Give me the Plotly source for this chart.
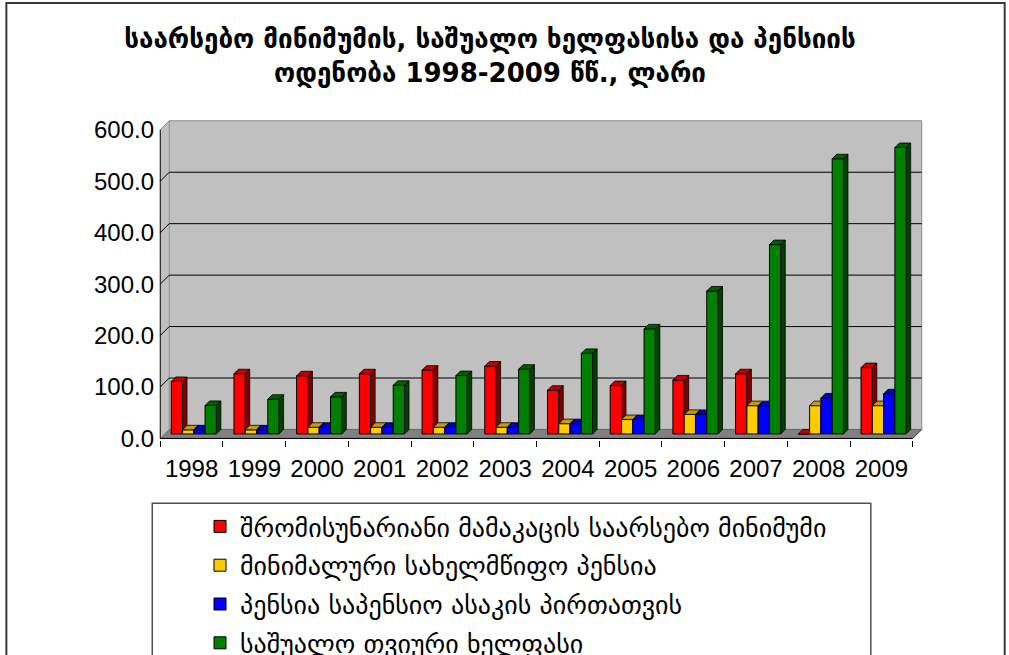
import plotly.graph_objects as go

# ---------------- data ----------------
years = ["1998", "1999", "2000", "2001", "2002", "2003",
         "2004", "2005", "2006", "2007", "2008", "2009"]
subsistence_min = [102, 117, 113, 117, 124, 132, 85, 94, 105, 117, 0, 129]
min_state_pension = [8, 8, 13, 13, 13, 13, 20, 28, 38, 55, 55, 55]
pension_retired = [8, 8, 13, 13, 13, 13, 20, 28, 38, 55, 70, 78]
avg_monthly_wage = [55.4, 67.5, 72.1, 94.6, 113.5, 125.9, 156.6, 204.2,
                    277.9, 368.1, 534.9, 556.8]

series_names = [
    "შრომისუნარიანი მამაკაცის საარსებო მინიმუმი",
    "მინიმალური სახელმწიფო პენსია",
    "პენსია საპენსიო ასაკის პირთათვის",
    "საშუალო თვიური ხელფასი",
]
series_values = [subsistence_min, min_state_pension, pension_retired, avg_monthly_wage]
# front, top, side colours for each series
series_colors = [
    ("#FF0000", "#C00000", "#800000"),
    ("#FFCC00", "#C89B00", "#806600"),
    ("#0000FF", "#0000C0", "#000080"),
    ("#008000", "#006000", "#004000"),
]

title_text = ("<b>საარსებო მინიმუმის, საშუალო ხელფასისა და პენსიის<br>"
              "ოდენობა 1998-2009 წწ., ლარი</b>")

# ---------------- geometry of the pseudo-3D frame ----------------
W, H = 1009, 655
X_PX = 62.75          # pixels per category
Y_PX = 0.5138         # pixels per value unit
ORIGIN_X, ORIGIN_Y = 160.0, 438.3   # pixel position of (-0.5, 0)

DXW = 9 / X_PX        # wall depth in x units
DYW = 9 / Y_PX        # wall depth in value units
DXB, DYB = DXW / 2, DYW / 2   # bar depth
BASE = DYW / 2        # bars stand in the middle of the floor
BAR_W = 0.18
GROUP_LEFT = -0.325
Y_TOP = 600

x_lo, x_hi = -0.52, 11.5 + DXW + 0.02
y_lo, y_hi = -3.0, Y_TOP + DYW + 1.5

plot_l = ORIGIN_X + (x_lo + 0.5) * X_PX
plot_r = ORIGIN_X + (x_hi + 0.5) * X_PX
plot_b = ORIGIN_Y - y_lo * Y_PX
plot_t = ORIGIN_Y - y_hi * Y_PX


def paper_x(px):
    return (px - plot_l) / (plot_r - plot_l)


def paper_y(py):
    return (plot_b - py) / (plot_b - plot_t)


n = len(years)
xs = list(range(n))

fig = go.Figure()

for k, (name, vals, (c_front, c_top, c_side)) in enumerate(
        zip(series_names, series_values, series_colors)):
    off = GROUP_LEFT + k * BAR_W
    fig.add_trace(go.Bar(
        x=xs, y=vals, base=BASE, offset=off, width=BAR_W,
        name=name, legendgroup=name,
        marker=dict(color=c_front, line=dict(color="black", width=1)),
        zorder=k + 1, hoverinfo="skip",
    ))
    top_x, top_y, side_x, side_y = [], [], [], []
    for i, v in zip(xs, vals):
        x0 = i + off
        x1 = x0 + BAR_W
        y0 = BASE
        y1 = BASE + v
        top_x += [x0, x1, x1 + DXB, x0 + DXB, x0, None]
        top_y += [y1, y1, y1 + DYB, y1 + DYB, y1, None]
        side_x += [x1, x1 + DXB, x1 + DXB, x1, x1, None]
        side_y += [y0, y0 + DYB, y1 + DYB, y1, y0, None]
    for fx, fy, fc in ((side_x, side_y, c_side), (top_x, top_y, c_top)):
        fig.add_trace(go.Scatter(
            x=fx, y=fy, mode="lines", fill="toself", fillcolor=fc,
            line=dict(color="black", width=0.8),
            legendgroup=name, showlegend=False, hoverinfo="skip",
            zorder=k + 1,
        ))

shapes = []
x_left, x_right = -0.5, n - 0.5
# left wall
shapes.append(dict(type="path", xref="x", yref="y", layer="below",
                   path=f"M {x_left},0 L {x_left + DXW},{DYW} L {x_left + DXW},{Y_TOP + DYW} "
                        f"L {x_left},{Y_TOP} Z",
                   fillcolor="#C0C0C0", line=dict(width=0)))
# back wall
shapes.append(dict(type="rect", xref="x", yref="y", layer="below",
                   x0=x_left + DXW, x1=x_right + DXW, y0=DYW, y1=Y_TOP + DYW,
                   fillcolor="#C0C0C0", line=dict(color="#8C8C8C", width=1)))
# floor
shapes.append(dict(type="path", xref="x", yref="y", layer="below",
                   path=f"M {x_left},0 L {x_right},0 L {x_right + DXW},{DYW} "
                        f"L {x_left + DXW},{DYW} Z",
                   fillcolor="#808080", line=dict(color="#6A6A6A", width=1)))
# gridlines across left and back wall
for v in range(100, Y_TOP, 100):
    shapes.append(dict(type="path", xref="x", yref="y", layer="below",
                       path=f"M {x_left},{v} L {x_left + DXW},{v + DYW} L {x_right + DXW},{v + DYW}",
                       line=dict(color="black", width=1)))
# top edge of left wall
shapes.append(dict(type="line", xref="x", yref="y", layer="below",
                   x0=x_left, y0=Y_TOP, x1=x_left + DXW, y1=Y_TOP + DYW,
                   line=dict(color="#8C8C8C", width=1)))
# front axes
shapes.append(dict(type="line", xref="x", yref="y", layer="below",
                   x0=x_left, y0=0, x1=x_left, y1=Y_TOP, line=dict(color="black", width=1)))
shapes.append(dict(type="line", xref="x", yref="y", layer="below",
                   x0=x_left, y0=0, x1=x_right, y1=0, line=dict(color="black", width=1)))
shapes.append(dict(type="line", xref="x", yref="y", layer="below",
                   x0=x_right, y0=0, x1=x_right + DXW, y1=DYW, line=dict(color="#555555", width=1)))
# outer chart frame
shapes.append(dict(type="rect", xref="paper", yref="paper", layer="below",
                   x0=paper_x(6), x1=paper_x(1005), y0=paper_y(700), y1=paper_y(3.5),
                   line=dict(color="#3A3A3A", width=2), fillcolor="rgba(0,0,0,0)"))
# legend frame
shapes.append(dict(type="rect", xref="paper", yref="paper", layer="below",
                   x0=paper_x(152), x1=paper_x(871), y0=paper_y(700), y1=paper_y(503),
                   line=dict(color="#505050", width=1.5), fillcolor="white"))

fig.update_layout(
    width=W, height=H, autosize=False,
    margin=dict(l=plot_l, r=W - plot_r, t=plot_t, b=H - plot_b, pad=0, autoexpand=False),
    paper_bgcolor="white", plot_bgcolor="rgba(0,0,0,0)",
    barmode="overlay",
    shapes=shapes,
    title=dict(text=title_text, xref="container", yref="container",
               x=490 / W, xanchor="center", y=1 - 48 / H, yanchor="top",
               font=dict(family="DejaVu Sans", size=26, color="black")),
    legend=dict(xref="container", yref="container", x=200 / W, y=1 - 503 / H,
                xanchor="left", yanchor="top", traceorder="grouped",
                tracegroupgap=2, bgcolor="rgba(0,0,0,0)", borderwidth=0,
                font=dict(family="DejaVu Sans", size=26, color="black")),
    xaxis=dict(range=[x_lo, x_hi], tickmode="array", tickvals=xs, ticktext=years,
               ticks="", showgrid=False, zeroline=False, showline=False,
               ticklabelstandoff=12,
               tickfont=dict(family="Liberation Sans, Arial", size=24, color="black"),
               minor=dict(tickvals=[i - 0.5 for i in range(n + 1)], ticks="outside",
                          ticklen=6, tickcolor="black", tickwidth=1, showgrid=False),
               fixedrange=True),
    yaxis=dict(range=[y_lo, y_hi], tickmode="array",
               tickvals=list(range(0, Y_TOP + 1, 100)), tickformat=".1f",
               ticks="", showgrid=False, zeroline=False, showline=False,
               ticklabelstandoff=4,
               tickfont=dict(family="Liberation Sans, Arial", size=24, color="black"),
               fixedrange=True),
    showlegend=True,
)

fig.write_html("out.html")
